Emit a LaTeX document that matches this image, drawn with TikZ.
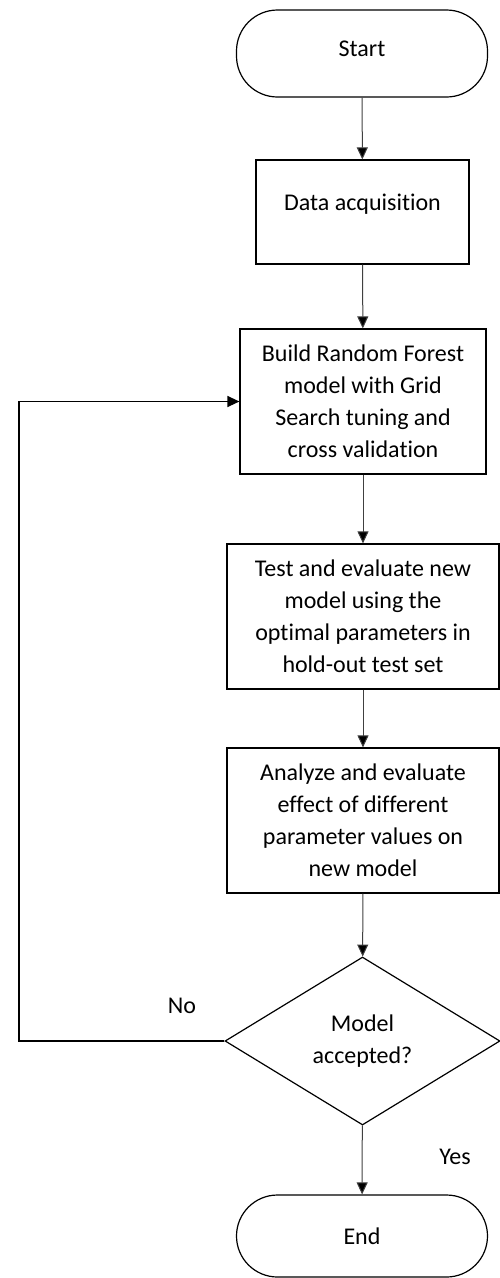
\documentclass[tikz,border=0pt]{standalone}
\usepackage{fontspec}
\setmainfont{Carlito}[Ligatures={NoCommon,NoContextual}]
\usetikzlibrary{arrows.meta,shapes.geometric}

\begin{document}
\begin{tikzpicture}[x=1pt,y=-1pt,
    box/.style={draw,line width=1.2pt,align=center,inner sep=0pt,
      font=\fontsize{24}{32}\selectfont},
    term/.style={box,rounded corners=41pt,minimum width=251pt},
    proc/.style={box,minimum height=145pt},
    flow/.style={draw=black!75,line width=1pt,
      -{Triangle[width=11pt,length=12pt,fill=black]}},
    lbl/.style={font=\fontsize{24}{32}\selectfont,inner sep=0pt}]
    \useasboundingbox (0,0) rectangle (500,1278);
    % begin and end of the flow
    \node[term,minimum height=87pt,text depth=10pt] (start) at (362,53.5) {Start};
    \node[term,minimum height=82pt] (stop) at (362,1236) {End};
    % steps
    \node[box,minimum width=213pt,minimum height=104pt,text depth=20pt] (data) at (362.5,212) {Data acquisition};
    \node[proc,minimum width=246pt] (build) at (363,401.5)
      {Build Random Forest\\model with Grid\\Search tuning and\\cross validation};
    \node[proc,minimum width=272pt] (test) at (363,616.5)
      {Test and evaluate new\\model using the\\optimal parameters in\\hold-out test set};
    \node[proc,minimum width=272pt] (analyze) at (363,820.5)
      {Analyze and evaluate\\effect of different\\parameter values on\\new model};
    % decision
    \node[box,diamond,aspect=1.64,minimum width=275pt,minimum height=168pt] (accept) at (362.5,1041)
      {Model\\accepted?};
    % connectors
    \draw[flow] (start) -- (data);
    \draw[flow] (data) -- (build);
    \draw[flow] (build) -- (test);
    \draw[flow] (test) -- (analyze);
    \draw[flow] (analyze) -- (accept);
    \draw[flow] (accept) -- (stop);
    % back to the model when not accepted
    \coordinate (back) at (19,1041);
    \draw[flow,draw=black,line width=1.3pt] (accept.west) -- (back) |- (build.west);
    \node[lbl] (no) at (182,1006) {No};
    \node[lbl] (yes) at (455,1157) {Yes};
\end{tikzpicture}
\end{document}
